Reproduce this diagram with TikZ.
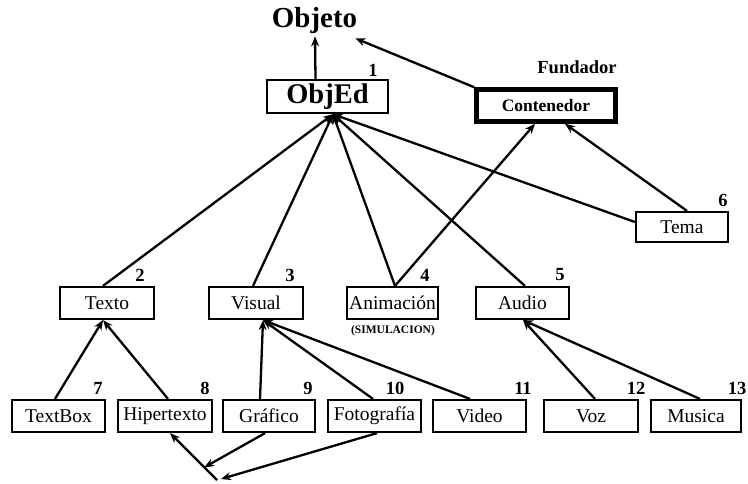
\documentclass[tikz,border=0pt]{standalone}
\usepackage{fontspec}
\setmainfont{Liberation Serif}
\usetikzlibrary{arrows.meta,calc}
\begin{document}
\begin{tikzpicture}[x=1pt,y=-1pt,
  box/.style={draw,line width=2.2pt,inner sep=0pt,minimum height=32pt,
    font=\fontsize{19.5}{21}\selectfont},
  num/.style={inner sep=0pt,font=\bfseries\fontsize{18.5}{20}\selectfont},
  link/.style={line width=2.3pt,-{Stealth[length=10pt,width=8pt]}},
  line/.style={line width=2.3pt}]
\useasboundingbox (0,0) rectangle (748,483);

% top level
\node[inner sep=2pt,font=\bfseries\fontsize{29}{31}\selectfont] (objeto) at (314.5,21) {Objeto};
\node[box,line width=2.4pt,minimum width=121pt,minimum height=33pt,
  font=\bfseries\fontsize{28.5}{30}\selectfont] (objed) at (327.5,96.5) {ObjEd};
\node[box,line width=4.5pt,minimum width=139pt,minimum height=32pt,
  font=\bfseries\fontsize{17.5}{19}\selectfont] (cont) at (546,105.5) {Contenedor};
\node[inner sep=0pt,font=\bfseries\fontsize{18.5}{20}\selectfont] (fund) at (577,67) {Fundador};
\node[box,minimum width=92pt,minimum height=30pt] (tema) at (682,227) {Tema};

% middle level
\node[box,minimum width=94pt] (texto) at (107,303) {Texto};
\node[box,minimum width=94pt] (visual) at (256,303) {Visual};
\node[box,minimum width=91pt] (anim) at (392.5,303) {Animación};
\node[inner sep=0pt,font=\bfseries\fontsize{11.5}{12}\selectfont] (simul) at (393,331) {(SIMULACION)};
\node[box,minimum width=93pt] (audio) at (522.5,303) {Audio};

% bottom level
\node[box,minimum width=93pt] (textbox) at (58.5,416) {TextBox};
\node[box,minimum width=94pt] (hiper) at (165,416) {Hipertexto};
\node[box,minimum width=92pt] (graf) at (269,416) {Gráfico};
\node[box,minimum width=93pt] (foto) at (374.5,416) {Fotografía};
\node[box,minimum width=93pt] (video) at (479.5,416) {Video};
\node[box,minimum width=94pt] (voz) at (591,416) {Voz};
\node[box,minimum width=90pt] (musica) at (696,416) {Musica};

% numbering
\node[num] (n1) at (373,70) {1};
\node[num] (n2) at (140,275) {2};
\node[num] (n3) at (290,275) {3};
\node[num] (n4) at (425,275) {4};
\node[num] (n5) at (560,275) {5};
\node[num] (n6) at (723,200) {6};
\node[num] (n7) at (98,388) {7};
\node[num] (n8) at (205,388) {8};
\node[num] (n9) at (308,388) {9};
\node[num] (n10) at (395,388) {10};
\node[num] (n11) at (523,388) {11};
\node[num] (n12) at (636,388) {12};
\node[num] (n13) at (737,388) {13};

% inheritance towards Objeto
\draw[link] ([xshift=-12pt]objed.north) -- ([xshift=0.5pt]objeto.south);
\draw[link] (cont.north west) -- ([xshift=-4pt,yshift=-2pt]objeto.south east);

% towards ObjEd
\coordinate (hub) at ([xshift=5.5pt]objed.south);
\draw[link] ([xshift=-4pt]texto.north) -- (hub);
\draw[link] ([xshift=-3pt]visual.north) -- (hub);
\draw[link] ([xshift=2.5pt]anim.north) -- (hub);
\draw[link] ([xshift=2.5pt]audio.north) -- (hub);
\draw[link] ([yshift=5pt]tema.west) -- (hub);

% towards Contenedor
\draw[link] ([xshift=2.5pt]anim.north) -- ([xshift=-11pt]cont.south);
\draw[link] ([xshift=5pt]tema.north) -- ([xshift=19pt]cont.south);

% towards Texto, Visual, Audio
\draw[link] ([xshift=-3.5pt]textbox.north) -- ([xshift=-4pt]texto.south);
\draw[link] ([xshift=3pt]hiper.north) -- ([xshift=-4pt]texto.south);
\draw[link] ([xshift=-9pt]graf.north) -- ([xshift=7pt]visual.south);
\draw[link] ([xshift=-1.5pt]foto.north) -- ([xshift=7pt]visual.south);
\draw[link] ([xshift=-9.5pt]video.north) -- ([xshift=7pt]visual.south);
\draw[link] ([xshift=4pt]voz.north) -- ([xshift=0.5pt]audio.south);
\draw[link] ([xshift=4pt]musica.north) -- ([xshift=0.5pt]audio.south);

% shared link below Hipertexto
\coordinate (jn) at (217,480);
\draw[link] (jn) -- ([xshift=5pt]hiper.south);
\draw[link] ([xshift=-4pt]graf.south) -- ($(jn)!0.27!([xshift=5pt]hiper.south)$);
\draw[link] ([xshift=2.5pt]foto.south) -- ([xshift=4pt,yshift=1pt]jn);
\end{tikzpicture}
\end{document}
